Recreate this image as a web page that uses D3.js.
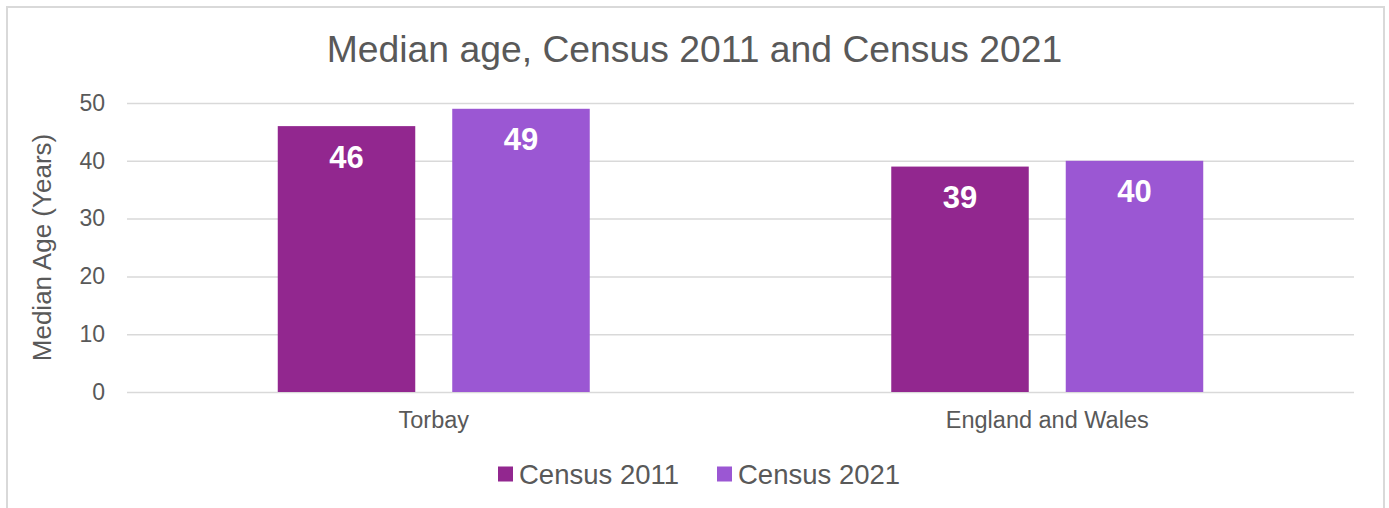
<!DOCTYPE html>
<html>
<head>
<meta charset="utf-8">
<script src="https://cdn.jsdelivr.net/npm/d3@7"></script>
<style>
  html, body { margin: 0; padding: 0; background: #fff; }
  svg { display: block; font-family: "Liberation Sans", Arial, sans-serif; }
</style>
</head>
<body>
<svg id="chart" width="1389" height="508"></svg>
<script>
// Median age by area, two census years
const categories = ["Torbay", "England and Wales"];
const seriesNames = ["Census 2011", "Census 2021"];
const census2011 = [46, 39];
const census2021 = [49, 40];
const yTicks = [0, 10, 20, 30, 40, 50];
const seriesColors = ["#92278f", "#9b57d3"];

const seriesValues = [census2011, census2021];
const W = 1389, H = 508;
const margin = { left: 127, right: 35, top: 103, bottom: 116 };
const plotRight = W - margin.right;
const plotBottom = H - margin.bottom;

const svg = d3.select("#chart");

// chart frame
svg.append("rect")
  .attr("x", 7).attr("y", 7)
  .attr("width", 1377).attr("height", 520)
  .attr("fill", "#fff")
  .attr("stroke", "#d9d9d9").attr("stroke-width", 2);

const x0 = d3.scaleBand().domain(categories).range([margin.left, plotRight]).padding(0);
const x1 = d3.scaleBand().domain(seriesNames).range([0, x0.bandwidth()])
  .paddingInner(0.212).paddingOuter(0.864);
const y = d3.scaleLinear().domain([0, 50]).range([plotBottom, margin.top]);

// gridlines
svg.append("g")
  .attr("transform", `translate(${margin.left},0)`)
  .call(d3.axisLeft(y).tickValues(yTicks).tickSize(-(plotRight - margin.left)).tickFormat(""))
  .call(g => g.select(".domain").remove())
  .call(g => g.selectAll("line").attr("stroke", "#d9d9d9").attr("stroke-width", 1.5));

// y tick labels
svg.append("g")
  .attr("transform", `translate(${margin.left},0)`)
  .call(d3.axisLeft(y).tickValues(yTicks).tickSize(0).tickPadding(22))
  .call(g => g.select(".domain").remove())
  .call(g => g.selectAll("text")
    .attr("fill", "#595959")
    .style("font-size", "23px")
    .style("font-family", "'Liberation Sans', Arial, sans-serif"));

// x category labels
svg.append("g")
  .attr("transform", `translate(0,${plotBottom})`)
  .call(d3.axisBottom(x0).tickSize(0).tickPadding(19))
  .call(g => g.select(".domain").remove())
  .call(g => g.selectAll("text")
    .attr("fill", "#595959")
    .style("font-size", "23.5px")
    .style("font-family", "'Liberation Sans', Arial, sans-serif"));

// bars
const rows = categories.map((c, i) => ({ cat: c, vals: seriesNames.map((s, j) => ({ s, j, v: seriesValues[j][i] })) }));
const groups = svg.append("g").selectAll("g").data(rows).join("g")
  .attr("transform", d => `translate(${x0(d.cat)},0)`);

groups.selectAll("rect").data(d => d.vals).join("rect")
  .attr("x", d => x1(d.s))
  .attr("y", d => y(d.v))
  .attr("width", x1.bandwidth())
  .attr("height", d => y(0) - y(d.v))
  .attr("fill", d => seriesColors[d.j]);

groups.selectAll("text").data(d => d.vals).join("text")
  .attr("x", d => x1(d.s) + x1.bandwidth() / 2)
  .attr("y", d => y(d.v) + 31)
  .attr("text-anchor", "middle")
  .attr("dominant-baseline", "central")
  .attr("fill", "#fff")
  .style("font-size", "31px")
  .style("font-weight", "bold")
  .text(d => d.v);

// title
svg.append("text")
  .attr("x", W / 2)
  .attr("y", 62)
  .attr("text-anchor", "middle")
  .attr("fill", "#595959")
  .style("font-size", "37.3px")
  .text("Median age, Census 2011 and Census 2021");

// y axis title
svg.append("text")
  .attr("transform", `translate(51,${(margin.top + plotBottom) / 2}) rotate(-90)`)
  .attr("text-anchor", "middle")
  .attr("fill", "#595959")
  .style("font-size", "26px")
  .text("Median Age (Years)");

// legend
const legendItems = [{ name: seriesNames[0], x: 498 }, { name: seriesNames[1], x: 717 }];
const lg = svg.append("g").selectAll("g").data(legendItems).join("g")
  .attr("transform", d => `translate(${d.x},474)`);
lg.append("rect")
  .attr("x", 0).attr("y", -7.5)
  .attr("width", 15).attr("height", 15)
  .attr("fill", (d, i) => seriesColors[i]);
lg.append("text")
  .attr("x", 21).attr("y", 0)
  .attr("dominant-baseline", "central")
  .attr("fill", "#595959")
  .style("font-size", "27.5px")
  .text(d => d.name);
</script>
</body>
</html>
